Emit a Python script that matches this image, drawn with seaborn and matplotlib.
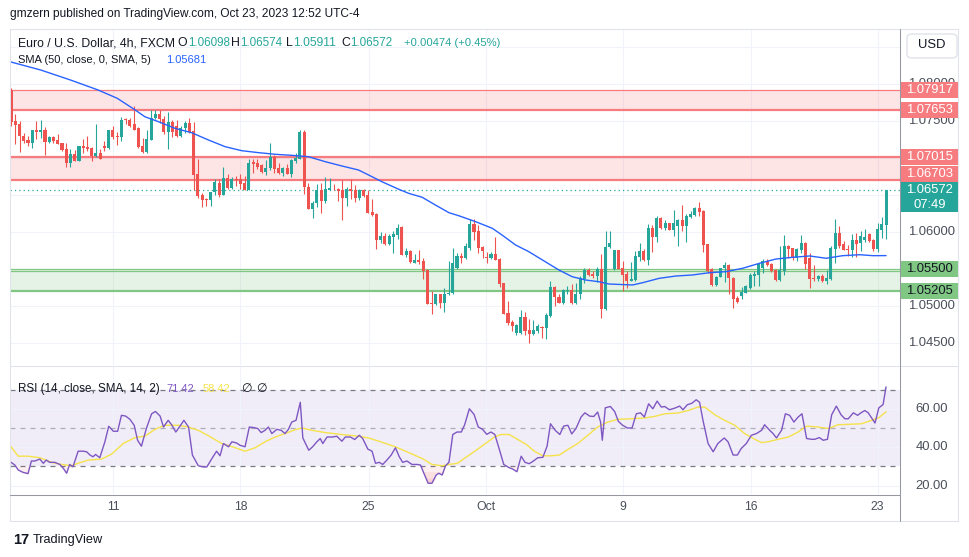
import numpy as np
import pandas as pd
import matplotlib
matplotlib.use("Agg")
import matplotlib.pyplot as plt
import seaborn as sns
from matplotlib.patches import Rectangle, FancyBboxPatch
from matplotlib.lines import Line2D

# ---------------------------------------------------------------- data
opens = [
1.07925,1.07498,1.07453,1.07304,1.07241,1.07196,1.07372,1.07349,1.07385,1.07214,
1.07277,1.07237,1.07196,1.07115,1.06935,1.07048,1.06958,1.07156,1.07147,1.07129,
1.07025,1.07061,1.07156,1.07133,1.07372,1.07295,1.07286,1.07520,1.07520,1.07453,
1.07399,1.07160,1.07079,1.07241,1.07543,1.07601,1.07529,1.07349,1.07489,1.07430,
1.07295,1.07399,1.07475,1.07363,1.06778,1.06494,1.06449,1.06431,1.06544,1.06665,
1.06499,1.06733,1.06598,1.06719,1.06719,1.06656,1.06566,1.06944,1.06926,1.06899,
1.06809,1.06859,1.07012,1.06859,1.06791,1.06859,1.06782,1.06958,1.06989,1.07358,
1.06611,1.06305,1.06386,1.06562,1.06418,1.06566,1.06584,1.06584,1.06562,1.06454,
1.06584,1.06562,1.06454,1.06562,1.06494,1.06269,1.06238,1.05887,1.05945,1.05833,
1.05932,1.05954,1.06071,1.05689,1.05743,1.05585,1.05617,1.05608,1.05486,1.05036,
1.05023,1.05158,1.05036,1.05158,1.05171,1.05509,1.05675,1.05644,1.05788,1.06112,
1.06013,1.05797,1.05666,1.05644,1.05698,1.05630,1.05306,1.04901,1.04784,1.04631,
1.04631,1.04856,1.04672,1.04618,1.04663,1.04721,1.04708,1.04865,1.05261,1.05126,
1.05036,1.05203,1.05216,1.05036,1.05158,1.05360,1.05482,1.05428,1.05405,1.05495,
1.04955,1.05797,1.05495,1.05752,1.05509,1.05428,1.05338,1.05347,1.05662,1.05743,
1.05621,1.06049,1.05932,1.06184,1.06049,1.06116,1.06026,1.06080,1.06157,1.06080,
1.06202,1.06224,1.06319,1.06283,1.05833,1.05495,1.05279,1.05396,1.05509,1.05549,
1.05383,1.05113,1.05135,1.05180,1.05248,1.05405,1.05419,1.05518,1.05608,1.05563,
1.05482,1.05347,1.05473,1.05810,1.05779,1.05644,1.05756,1.05846,1.05653,1.05374,
1.05360,1.05405,1.05338,1.05360,1.05765,1.05981,1.05833,1.05765,1.05756,1.05887,
1.05855,1.05887,1.05968,1.05887,1.05765,1.06026,1.06098]
highs = [
1.07948,1.07588,1.07498,1.07340,1.07295,1.07372,1.07498,1.07511,1.07417,1.07304,
1.07295,1.07331,1.07205,1.07196,1.07115,1.07106,1.07160,1.07250,1.07295,1.07142,
1.07453,1.07124,1.07223,1.07385,1.07430,1.07354,1.07552,1.07543,1.07543,1.07700,
1.07417,1.07273,1.07385,1.07655,1.07655,1.07655,1.07565,1.07628,1.07511,1.07507,
1.07430,1.07498,1.07534,1.07484,1.06980,1.06530,1.06463,1.06544,1.06710,1.06710,
1.06881,1.06778,1.06746,1.06755,1.06787,1.06755,1.06989,1.06989,1.06980,1.06913,
1.06967,1.07196,1.07034,1.06926,1.06881,1.06913,1.06980,1.07061,1.07385,1.07372,
1.06656,1.06418,1.06643,1.06656,1.06746,1.06724,1.06643,1.06598,1.06701,1.06611,
1.06719,1.06629,1.06575,1.06575,1.06562,1.06440,1.06251,1.05999,1.05981,1.05968,
1.06013,1.06103,1.06080,1.05788,1.05756,1.05698,1.05752,1.05644,1.05504,1.05198,
1.05158,1.05167,1.05248,1.05608,1.05788,1.05720,1.05711,1.05846,1.06170,1.06179,
1.06089,1.05810,1.05734,1.05729,1.05932,1.05644,1.05315,1.05068,1.04811,1.04753,
1.04946,1.04919,1.04829,1.04811,1.04753,1.04730,1.04901,1.05338,1.05270,1.05158,
1.05225,1.05270,1.05293,1.05306,1.05405,1.05518,1.05518,1.05473,1.05531,1.05698,
1.06013,1.06013,1.05752,1.05756,1.05608,1.05473,1.05594,1.05743,1.05846,1.05765,
1.06103,1.06089,1.06215,1.06202,1.06161,1.06125,1.06292,1.06170,1.06359,1.06238,
1.06283,1.06337,1.06409,1.06292,1.05842,1.05509,1.05405,1.05509,1.05594,1.05563,
1.05396,1.05135,1.05261,1.05279,1.05441,1.05473,1.05563,1.05630,1.05630,1.05585,
1.05495,1.05810,1.05959,1.05824,1.05788,1.05788,1.05959,1.05869,1.05720,1.05549,
1.05414,1.05428,1.05486,1.05810,1.06170,1.06080,1.05878,1.05819,1.05968,1.05990,
1.06013,1.06044,1.05981,1.05900,1.06116,1.06202,1.06574]
lows = [
1.07430,1.07183,1.07079,1.07196,1.07160,1.07138,1.07250,1.07264,1.07034,1.07205,
1.07196,1.07183,1.07088,1.06877,1.06877,1.06958,1.06955,1.07061,1.07093,1.06958,
1.07012,1.06980,1.07097,1.07124,1.07250,1.07174,1.07228,1.07453,1.07421,1.07385,
1.07129,1.07061,1.07061,1.07241,1.07529,1.07475,1.07318,1.07115,1.07286,1.07286,
1.07286,1.07340,1.07340,1.06566,1.06463,1.06337,1.06350,1.06350,1.06503,1.06472,
1.06495,1.06575,1.06575,1.06620,1.06584,1.06566,1.06562,1.06791,1.06854,1.06800,
1.06764,1.06832,1.06791,1.06778,1.06755,1.06778,1.06742,1.06935,1.06980,1.06508,
1.06305,1.06184,1.06341,1.06251,1.06386,1.06562,1.06566,1.06418,1.06161,1.06350,
1.06440,1.06404,1.06431,1.06476,1.06251,1.06215,1.05765,1.05846,1.05819,1.05824,
1.05711,1.05900,1.05689,1.05666,1.05576,1.05576,1.05572,1.05360,1.05023,1.04897,
1.05020,1.04978,1.04919,1.05155,1.05168,1.05495,1.05585,1.05630,1.05756,1.05891,
1.05720,1.05653,1.05585,1.05630,1.05617,1.05261,1.04888,1.04739,1.04663,1.04604,
1.04618,1.04604,1.04505,1.04604,1.04640,1.04573,1.04559,1.04852,1.05000,1.05036,
1.05023,1.05158,1.05023,1.05023,1.05090,1.05306,1.05405,1.05383,1.05329,1.04843,
1.04950,1.05788,1.05486,1.05504,1.05203,1.05239,1.05334,1.05343,1.05608,1.05608,
1.05554,1.05729,1.05864,1.06035,1.06026,1.06026,1.05945,1.05810,1.06013,1.05864,
1.06193,1.06215,1.06215,1.05729,1.05450,1.05270,1.05275,1.05392,1.05329,1.05158,
1.04969,1.05036,1.05090,1.05171,1.05234,1.05270,1.05270,1.05450,1.05540,1.05464,
1.05338,1.05343,1.05414,1.05653,1.05621,1.05608,1.05720,1.05504,1.05239,1.05338,
1.05338,1.05329,1.05302,1.05356,1.05585,1.05788,1.05752,1.05675,1.05662,1.05662,
1.05743,1.05869,1.05864,1.05743,1.05729,1.05923,1.05911]
closes = [
1.07484,1.07444,1.07295,1.07223,1.07196,1.07372,1.07349,1.07385,1.07214,1.07277,
1.07228,1.07192,1.07102,1.06935,1.07048,1.06958,1.07156,1.07129,1.07115,1.07025,
1.07061,1.06989,1.07133,1.07376,1.07286,1.07282,1.07520,1.07511,1.07439,1.07385,
1.07147,1.07079,1.07250,1.07543,1.07601,1.07529,1.07349,1.07493,1.07349,1.07295,
1.07408,1.07475,1.07349,1.06764,1.06485,1.06431,1.06431,1.06544,1.06674,1.06499,
1.06733,1.06589,1.06719,1.06697,1.06643,1.06566,1.06935,1.06917,1.06881,1.06809,
1.06868,1.07012,1.06845,1.06791,1.06859,1.06782,1.06967,1.06994,1.07358,1.06607,
1.06305,1.06395,1.06562,1.06418,1.06575,1.06589,1.06575,1.06553,1.06454,1.06575,
1.06553,1.06454,1.06562,1.06485,1.06251,1.06229,1.05891,1.05945,1.05833,1.05945,
1.05968,1.06058,1.05689,1.05743,1.05594,1.05617,1.05594,1.05473,1.05023,1.05023,
1.05158,1.05036,1.05167,1.05180,1.05585,1.05675,1.05644,1.05810,1.06112,1.05999,
1.05779,1.05743,1.05644,1.05707,1.05621,1.05293,1.04888,1.04775,1.04730,1.04739,
1.04856,1.04663,1.04627,1.04672,1.04730,1.04708,1.04874,1.05261,1.05126,1.05036,
1.05216,1.05216,1.05036,1.05158,1.05374,1.05482,1.05419,1.05405,1.05495,1.04955,
1.05801,1.05855,1.05752,1.05504,1.05419,1.05338,1.05360,1.05675,1.05743,1.05621,
1.06049,1.05932,1.06184,1.06049,1.06116,1.06026,1.06116,1.06157,1.06080,1.06215,
1.06238,1.06319,1.06269,1.05824,1.05473,1.05279,1.05396,1.05509,1.05549,1.05374,
1.05090,1.05059,1.05189,1.05270,1.05414,1.05428,1.05563,1.05608,1.05549,1.05473,
1.05347,1.05482,1.05810,1.05774,1.05644,1.05765,1.05846,1.05563,1.05369,1.05360,
1.05405,1.05338,1.05374,1.05779,1.05981,1.05810,1.05756,1.05756,1.05887,1.05833,
1.05945,1.05936,1.05878,1.05765,1.06035,1.06103,1.06572]

# SMA(50) line, read at sample bars (bar index, value)
sma_idx = [0,7,14,20.5,25,29,31.5,34.7,38.6,42.5,46.5,50.4,54.3,58.3,62.2,66.1,70,74,77.9,81.8,
           84.2,87.3,91.3,93.6,96.8,99.9,103.1,105.4,109.4,113.3,115.6,118.8,121.9,125.1,129,132.1,
           135.3,138.4,140.8,146.3,148.7,152.6,156.5,160.4,164.4,168.3,172.2,176.2,180.1,184,188,
           191.9,195.8,199.8,202.9,206]
sma_val = [1.08297,1.08189,1.08054,1.07919,1.07807,1.07658,1.07558,1.07491,1.07401,1.07342,
           1.07243,1.07153,1.07099,1.07072,1.0705,1.07036,1.07018,1.0695,1.06892,1.06838,
           1.0677,1.0668,1.06577,1.06523,1.06469,1.06365,1.06261,1.0622,1.06139,1.0605,
           1.05959,1.05824,1.05734,1.05622,1.05486,1.05396,1.05351,1.05328,1.05297,1.05284,
           1.05315,1.05374,1.05405,1.05419,1.0545,1.05464,1.05509,1.05577,1.05635,1.05658,
           1.05676,1.05645,1.0568,1.05693,1.0568,1.05681]

# RSI(14)
rsi_idx = [0.0,0.9,1.7,2.8,4.0,4.8,5.6,6.8,7.6,8.3,
9.1,10.3,11.5,12.3,13.1,13.8,14.6,15.8,17.0,17.8,
18.6,19.3,19.9,20.9,22.1,23.0,24.1,25.1,26.0,27.0,
28.0,29.0,29.8,30.7,31.9,33.1,34.0,35.1,35.9,37.0,
37.8,38.8,39.8,40.7,41.8,42.7,44.1,45.3,46.1,47.3,
48.4,49.2,50.0,51.2,52.0,53.1,53.9,55.1,56.1,57.2,
58.1,58.9,59.8,60.6,61.4,62.6,63.6,64.5,65.3,66.1,
67.1,68.1,68.7,70.1,71.0,72.0,72.8,73.4,74.4,75.7,
76.7,77.9,78.7,79.9,80.9,82.0,82.8,84.0,85.0,85.8,
86.7,87.5,88.5,89.5,90.5,91.4,92.2,93.2,94.4,95.6,
96.4,97.2,98.2,99.1,100.1,100.7,101.5,102.3,103.1,104.0,
105.0,106.0,106.8,107.9,109.0,110.0,111.0,112.0,113.0,113.9,
114.9,116.0,117.1,118.1,119.1,120.1,121.0,122.0,123.0,124.0,
125.2,126.2,127.0,128.1,129.2,130.1,131.1,132.0,133.0,134.2,
135.1,136.2,137.2,138.1,138.8,139.2,139.9,141.1,142.1,143.0,
144.0,145.1,146.2,147.2,148.2,149.1,150.1,151.1,152.1,153.1,
153.9,155.0,156.2,157.4,158.2,159.2,160.3,161.3,162.1,162.9,
164.1,165.3,166.4,167.9,168.8,170.0,171.0,171.9,173.1,174.3,
175.5,176.7,177.4,178.6,179.4,180.2,181.4,182.3,183.3,184.3,
185.3,186.2,187.3,188.5,189.2,190.3,191.2,192.2,193.2,194.3,
195.4,196.3,197.1,198.3,199.3,200.1,201.0,201.8,202.6,203.4,
204.3,205.3,206.0]
rsi_val = [32.1,30.7,28.1,26.9,26.2,32.8,32.8,33.8,31.6,33.3,
32.1,32.1,31.0,29.0,26.4,31.0,29.8,37.9,37.9,37.6,
35.9,35.0,36.2,34.5,42.8,50.9,48.3,48.3,56.6,56.2,
54.5,51.4,43.6,40.5,50.0,57.4,58.6,56.2,50.5,54.0,
51.7,47.9,51.0,54.0,50.5,35.9,30.3,29.7,29.7,34.1,
37.9,35.5,41.9,40.2,42.8,42.2,41.0,40.2,50.5,50.2,
49.7,47.6,48.8,50.5,47.1,49.3,48.8,47.1,49.3,53.1,
54.0,63.4,44.8,38.4,40.2,42.8,44.5,41.9,45.3,45.3,
45.7,43.1,45.3,45.3,44.0,46.2,44.5,39.0,37.9,31.6,
32.1,31.0,33.3,35.9,39.7,35.0,32.1,32.8,31.0,31.0,
30.7,26.4,21.2,21.2,25.5,26.4,25.5,30.3,32.1,46.6,
47.9,47.9,51.7,60.0,57.1,50.5,49.3,46.7,47.9,46.6,
39.3,31.0,29.5,28.6,27.2,35.3,32.1,31.4,32.8,34.5,
34.7,40.5,52.2,48.8,46.6,51.0,51.4,46.9,49.7,55.7,
57.9,56.2,56.0,58.3,53.1,43.6,60.5,61.2,58.6,53.4,
51.4,50.0,50.0,57.4,57.9,55.7,62.6,60.0,64.0,60.9,
61.2,59.5,60.3,61.4,59.5,62.1,62.9,64.7,63.4,54.0,
41.9,37.6,41.9,44.8,42.8,35.9,35.9,39.3,41.9,46.2,
47.1,48.8,51.7,48.8,47.1,44.8,48.8,57.4,56.6,53.1,
55.7,57.4,44.5,44.1,44.1,45.0,43.6,44.1,56.9,61.4,
56.9,54.8,54.8,57.9,56.6,57.9,59.1,57.9,55.2,52.6,
60.5,62.2,71.42]

# RSI-based moving average (SMA 14)
rsima_idx = [0.0,1.7,4.0,6.8,9.5,11.9,14.2,15.8,18.2,21.3,
23.7,26.4,29.2,31.5,33.9,36.2,39.4,41.7,44.1,46.5,
49.6,52.8,55.1,57.5,59.8,62.2,64.5,66.9,68.5,70.8,
74.0,77.9,81.8,84.2,86.6,90.5,93.6,96.8,99.1,101.5,
103.1,105.1,106.7,109.0,111.4,113.8,115.3,117.3,119.3,121.2,
123.2,125.2,127.1,129.1,131.1,133.4,135.8,138.1,140.5,142.9,
146.0,149.1,151.5,153.9,157.0,159.4,161.7,163.3,165.7,168.0,
170.4,172.7,175.1,176.7,178.2,180.6,183.0,185.3,187.3,190.0,
192.4,194.7,197.1,200.2,202.6,204.2,206.0]
rsima_val = [40.2,35.3,35.3,34.5,32.1,31.0,30.3,31.6,33.3,33.8,
36.4,41.9,45.0,45.7,49.3,51.4,51.4,50.5,48.8,45.9,
41.9,39.7,37.9,39.7,42.8,45.3,47.1,49.1,50.0,48.8,
47.6,46.6,45.7,44.8,43.1,40.2,37.2,34.1,31.0,30.3,
31.0,31.6,34.1,37.6,41.4,45.3,46.6,46.6,44.0,41.6,
37.9,35.5,35.5,35.9,38.8,41.9,46.2,50.5,53.1,54.5,
54.8,55.2,56.0,57.4,57.8,59.1,60.9,60.9,56.9,54.0,
51.4,47.1,44.1,42.4,42.8,44.1,45.3,47.9,51.0,50.5,
49.7,51.7,51.9,52.2,54.0,55.2,58.42]

red_zones = [(1.07653, 1.07917), (1.06703, 1.07015)]
green_zone = (1.05205, 1.05500)
green_inner = 1.05477
last_price = 1.06572
countdown = "07:49"
sma_last = "1.05681"
rsi_last, rsima_last = "71.42", "58.42"
ohlc_letters = ["O", "H", "L", "C"]
ohlc_hdr = ["1.06098", "1.06574", "1.05911", "1.06572"]
change_hdr = "+0.00474 (+0.45%)"
price_grid = [1.045, 1.050, 1.055, 1.060, 1.065, 1.070, 1.075, 1.080, 1.085]
price_labels = [1.080, 1.075, 1.060, 1.050, 1.045]
rsi_grid = [20, 40, 60]
time_labels = ["11", "18", "25", "Oct", "9", "16", "23"]
time_pos = [24.1, 54.0, 84.2, 111.8, 144.1, 174.1, 204.0]

# ---------------------------------------------------------------- style
sns.set_theme(style="white")
plt.rcParams["font.family"] = ["Liberation Sans", "DejaVu Sans"]

W, H = 970, 557
fig = plt.figure(figsize=(W / 100, H / 100), dpi=100)
fig.patch.set_facecolor("white")
R = fig.canvas.get_renderer()

def fx(px): return px / W
def fy(py): return 1 - py / H

UP, DN = "#26a69a", "#ef5350"
TXT = "#131722"
SCL = "#4a4f5a"
GRID = "#f0f3fa"
BORDER = "#e0e3eb"
SEP = "#9598a1"
ZRED, ZGRN = "#f77c80", "#81c784"

def fit_size(s, target_px, base=10.0, **kw):
    t = fig.text(0, 0, s, fontsize=base, **kw)
    w = t.get_window_extent(renderer=R).width
    t.remove()
    return base * target_px / w

FS1 = fit_size("gmzern published on TradingView.com, Oct 23, 2023 12:52 UTC-4", 352)
FSL = fit_size("Euro / U.S. Dollar, 4h, FXCM", 156)
FSS = fit_size("1.06000", 47)

PL, PR = 10.5, 900.5
P_TOP, P_BOT = 29, 365
R_TOP, R_BOT = 366, 494

ax = fig.add_axes([fx(PL), fy(P_BOT), (PR - PL) / W, (P_BOT - P_TOP) / H])
axr = fig.add_axes([fx(PL), fy(R_BOT), (PR - PL) / W, (R_BOT - R_TOP) / H], sharex=ax)
for a in (ax, axr):
    a.set_facecolor("none")
    for s in a.spines.values():
        s.set_visible(False)

ax.set_xlim(-0.12, 209.4)
ax.set_ylim(1.042027, 1.087432)
axr.set_ylim(15.6, 82.3)

# grids
ax.set_yticks(price_grid)
axr.set_yticks(rsi_grid)
axr.set_xticks(time_pos)
axr.set_xticklabels(time_labels)
for a in (ax, axr):
    a.grid(True, color=GRID, lw=0.8, zorder=0)
    a.set_axisbelow(True)
    a.tick_params(left=False, labelleft=False, right=False, labelright=False, length=0)
ax.tick_params(labelbottom=False)
axr.tick_params(axis="x", pad=5, labelsize=FSL, labelcolor=SCL)

# zones
for lo, hi in red_zones:
    ax.axhspan(lo, hi, color=ZRED, alpha=0.2, lw=0, zorder=1)
ax.axhline(red_zones[0][1], color=ZRED, lw=0.9, zorder=1.5)
ax.axhline(red_zones[0][0], color=ZRED, lw=1.6, zorder=1.5)
ax.axhline(red_zones[1][1], color=ZRED, lw=1.6, zorder=1.5)
ax.axhline(red_zones[1][0], color=ZRED, lw=1.6, zorder=1.5)
ax.axhspan(green_zone[0], green_zone[1], color=ZGRN, alpha=0.2, lw=0, zorder=1)
ax.axhline(green_zone[1], color=ZGRN, lw=0.9, zorder=1.5)
ax.axhline(green_inner, color=ZGRN, lw=0.9, zorder=1.5)
ax.axhline(green_zone[0], color=ZGRN, lw=1.6, zorder=1.5)

# current price dotted line
ax.axhline(last_price, color=UP, lw=0.9, ls=(0, (1, 2.5)), zorder=2)

# candles
df = pd.DataFrame({"open": opens, "high": highs, "low": lows, "close": closes})
df["i"] = np.arange(len(df))
cols = np.where(df["close"] >= df["open"], UP, DN)
ax.vlines(df["i"], df["low"], df["high"], colors=cols, lw=0.8, zorder=3)
body_lo = np.minimum(df["open"], df["close"])
body_h = np.maximum((df["close"] - df["open"]).abs(), 0.00011)
ax.bar(df["i"], body_h, bottom=body_lo, width=0.72, color=cols, linewidth=0, zorder=4)

# SMA
sns.lineplot(x=sma_idx, y=sma_val, ax=ax, color="#2962ff", linewidth=1.0,
             estimator=None, sort=False, legend=False, zorder=5)

# RSI pane
axr.axhspan(30, 70, color="#7e57c2", alpha=0.1, lw=0, zorder=0.2)
axr.axhline(70, color="#787b86", lw=0.9, ls=(0, (4, 4)), zorder=1)
axr.axhline(30, color="#787b86", lw=0.9, ls=(0, (4, 4)), zorder=1)
axr.axhline(50, color="#787b86", lw=0.9, ls=(0, (4, 4)), alpha=0.55, zorder=1)
ri, rv = np.array(rsi_idx), np.array(rsi_val)
for lvl in (30, 27, 24):
    axr.fill_between(ri, np.minimum(rv, lvl), lvl, where=rv < lvl, interpolate=True,
                     color=DN, alpha=0.09, lw=0, zorder=1.2)
axr.fill_between(ri, 70, np.maximum(rv, 70), where=rv > 70, interpolate=True,
                 color=UP, alpha=0.2, lw=0, zorder=1.2)
sns.lineplot(x=rsima_idx, y=rsima_val, ax=axr, color="#f5e24a", linewidth=1.0,
             estimator=None, sort=False, legend=False, zorder=3)
sns.lineplot(x=rsi_idx, y=rsi_val, ax=axr, color="#7e57c2", linewidth=1.0,
             estimator=None, sort=False, legend=False, zorder=4)
axr.set_xlabel(""); axr.set_ylabel(""); ax.set_xlabel(""); ax.set_ylabel("")

# ---------------------------------------------------------------- frame lines
def fline(x0, y0, x1, y1, color, lw=0.75, z=30):
    fig.add_artist(Line2D([fx(x0), fx(x1)], [fy(y0), fy(y1)], transform=fig.transFigure,
                          color=color, lw=lw, zorder=z))

fline(10.5, 28.5, 958.5, 28.5, BORDER)
fline(10.5, 28.5, 10.5, 520.5, BORDER)
fline(958.5, 28.5, 958.5, 520.5, BORDER)
fline(10.5, 520.5, 958.5, 520.5, BORDER)
fline(10.5, 365.5, 958.5, 365.5, BORDER)
fline(10.5, 494.5, 900.5, 494.5, SEP)
fline(900.5, 28.5, 900.5, 520.5, SEP)

# ---------------------------------------------------------------- right scale
def ypix(a, v):
    return H - a.transData.transform((0, v))[1] * (H / fig.bbox.height)

XC = 931.5
for v in price_labels:
    fig.text(fx(XC), fy(ypix(ax, v)), f"{v:.5f}", ha="center", va="center",
             fontsize=FSS, color=SCL, zorder=5)
for v in rsi_grid:
    fig.text(fx(XC), fy(ypix(axr, v)), f"{v:.2f}", ha="center", va="center",
             fontsize=FSS, color=SCL, zorder=5)

def box(yc, h, fc, lines, tc):
    fig.add_artist(Rectangle((fx(901), fy(yc + h / 2)), fx(57), h / H,
                             transform=fig.transFigure, fc=fc, ec="none", zorder=10))
    n = len(lines)
    for k, s in enumerate(lines):
        yy = yc - h / 2 + (k + 0.5) * h / n
        fig.text(fx(929.5), fy(yy), s, ha="center", va="center", fontsize=FSS,
                 color=tc, zorder=11)

y_last = ypix(ax, last_price)
last_top = y_last - 7.5
box(y_last + 7.5, 30, UP, [f"{last_price:.5f}", countdown], "white")
for lo, hi in red_zones:
    for v in (hi, lo):
        yc = ypix(ax, v)
        if yc + 8 > last_top and yc < y_last + 25:
            yc = last_top - 8
        box(yc, 16, ZRED, [f"{v:.5f}"], "white")
for v in green_zone:
    box(ypix(ax, v), 16, ZGRN, [f"{v:.5f}"], TXT)

fig.add_artist(FancyBboxPatch((fx(907), fy(58)), fx(50), 24 / H,
                              boxstyle="round,pad=0,rounding_size=0.006",
                              transform=fig.transFigure, fc="white", ec=BORDER, lw=1, zorder=10))
fig.text(fx(932), fy(45.5), "USD", ha="center", va="center", fontsize=FSS, color=TXT, zorder=11)

# ---------------------------------------------------------------- legends / header
def put(x_px, y_px, s, color, width=None, size=None):
    """Place a text at x (left) and return its right edge; fit its size to width if given."""
    if width is not None:
        size = fit_size(s, width)
    t = fig.text(fx(x_px), fy(y_px), s, color=color, fontsize=size, ha="left",
                 va="center", zorder=20)
    return x_px + t.get_window_extent(renderer=R).width

fig.text(fx(10), fy(14), "gmzern published on TradingView.com, Oct 23, 2023 12:52 UTC-4",
         fontsize=FS1, color=TXT, ha="left", va="center")
put(18.3, 43, "Euro / U.S. Dollar, 4h, FXCM", TXT, size=FSL)
for xs, let, val in zip([177.7, 231.0, 286.0, 341.0], ohlc_letters, ohlc_hdr):
    xe = put(xs, 43, let, TXT, size=FSL)
    put(xe + 0.5, 43, val, UP, width=42)
put(404.0, 43, change_hdr, UP, width=96)
put(18.3, 60, "SMA (50, close, 0, SMA, 5)", TXT, width=133)
put(165.7, 60, sma_last, "#2962ff", width=40)
put(18.0, 389, "RSI (14, close, SMA, 14, 2)", TXT, width=140)
put(166.3, 389, rsi_last, "#7e57c2", width=28)
put(202.3, 389, rsima_last, "#f5e24a", width=28)
put(241.3, 389, "\u2205", TXT, size=FSL)
put(256.3, 389, "\u2205", TXT, size=FSL)

# footer logo
fig.text(fx(13), fy(540), "17", fontsize=10.5, fontweight="bold", color=TXT, ha="left", va="center")
fig.text(fx(33), fy(540), "TradingView", fontsize=FSL * 1.05, color=TXT, ha="left", va="center")

fig.savefig("out.png", dpi=100, facecolor="white")
